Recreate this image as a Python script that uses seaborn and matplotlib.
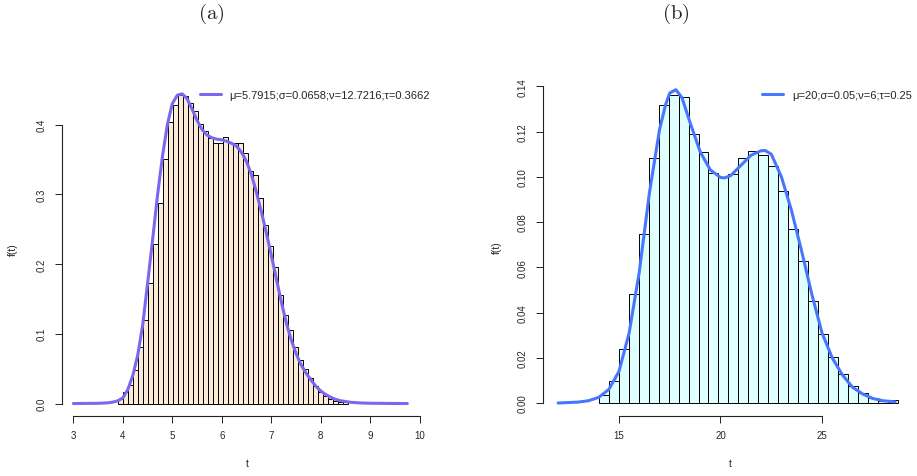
import numpy as np
import pandas as pd
import matplotlib
matplotlib.use("Agg")
import matplotlib.pyplot as plt
import seaborn as sns

# ---------------- data: panel (a) ----------------
a_bin_edges = [3.9, 4.0, 4.1, 4.2, 4.3, 4.4, 4.5, 4.6, 4.7, 4.8, 4.9, 5.0, 5.1, 5.2, 5.3,
               5.4, 5.5, 5.6, 5.7, 5.8, 5.9, 6.0, 6.1, 6.2, 6.3, 6.4, 6.5, 6.6, 6.7, 6.8,
               6.9, 7.0, 7.1, 7.2, 7.3, 7.4, 7.5, 7.6, 7.7, 7.8, 7.9, 8.0, 8.1, 8.2, 8.3,
               8.4, 8.5, 8.6]
a_heights = [0.006, 0.016, 0.027, 0.048, 0.081, 0.120, 0.173, 0.229, 0.288, 0.350, 0.404,
             0.428, 0.443, 0.441, 0.431, 0.420, 0.401, 0.390, 0.381, 0.373, 0.373, 0.382,
             0.374, 0.373, 0.373, 0.359, 0.333, 0.327, 0.295, 0.256, 0.226, 0.196, 0.155,
             0.127, 0.105, 0.081, 0.062, 0.049, 0.037, 0.025, 0.017, 0.011, 0.007, 0.004,
             0.0025, 0.0015, 0.0008]
a_curve_t = [3.0, 3.5, 3.7, 3.8, 3.9, 4.0, 4.1, 4.2, 4.3, 4.4, 4.5, 4.6, 4.7, 4.8, 4.9,
             5.0, 5.1, 5.2, 5.3, 5.4, 5.5, 5.6, 5.7, 5.8, 5.9, 6.0, 6.1, 6.2, 6.3, 6.4,
             6.5, 6.6, 6.7, 6.8, 6.9, 7.0, 7.1, 7.2, 7.3, 7.4, 7.5, 7.6, 7.7, 7.8, 7.9,
             8.0, 8.1, 8.2, 8.3, 8.4, 8.6, 8.8, 9.0, 9.4, 9.75]
a_curve_f = [0.0, 0.0003, 0.001, 0.002, 0.004, 0.008, 0.020, 0.040, 0.069, 0.112, 0.172,
             0.234, 0.298, 0.354, 0.400, 0.430, 0.442, 0.444, 0.437, 0.422, 0.406, 0.393,
             0.385, 0.381, 0.379, 0.378, 0.376, 0.373, 0.369, 0.360, 0.347, 0.328, 0.303,
             0.275, 0.245, 0.213, 0.180, 0.147, 0.117, 0.092, 0.072, 0.056, 0.044, 0.034,
             0.025, 0.018, 0.013, 0.009, 0.006, 0.004, 0.0018, 0.0008, 0.0004, 0.0001, 0.0]
a_label = "μ=5.7915;σ=0.0658;ν=12.7216;τ=0.3662"
a_xticks = [3, 4, 5, 6, 7, 8, 9, 10]
a_yticks = [0.0, 0.1, 0.2, 0.3, 0.4]

# ---------------- data: panel (b) ----------------
b_bin_edges = [14.0, 14.5, 15.0, 15.5, 16.0, 16.5, 17.0, 17.5, 18.0, 18.5, 19.0, 19.5,
               20.0, 20.5, 21.0, 21.5, 22.0, 22.5, 23.0, 23.5, 24.0, 24.5, 25.0, 25.5,
               26.0, 26.5, 27.0, 27.5, 28.0, 28.5, 29.0]
b_heights = [0.0035, 0.0099, 0.0239, 0.0483, 0.0746, 0.1082, 0.1317, 0.1363, 0.1351,
             0.1189, 0.1108, 0.1015, 0.1001, 0.1014, 0.1082, 0.1114, 0.1096, 0.1046,
             0.0936, 0.0769, 0.0626, 0.0451, 0.0304, 0.0202, 0.0128, 0.0074, 0.0043,
             0.0022, 0.0010, 0.0013]
b_curve_t = [12.0, 13.0, 13.5, 14.0, 14.5, 15.0, 15.5, 16.0, 16.5, 17.0, 17.3, 17.5, 17.8,
             18.1, 18.5, 19.0, 19.5, 20.0, 20.2, 20.5, 21.0, 21.5, 22.0, 22.2, 22.5, 23.0,
             23.5, 24.0, 24.5, 25.0, 25.5, 26.0, 26.5, 27.0, 27.5, 28.0, 28.6]
b_curve_f = [0.0, 0.0004, 0.001, 0.0025, 0.006, 0.014, 0.031, 0.058, 0.093, 0.121, 0.132,
             0.137, 0.1385, 0.135, 0.124, 0.111, 0.103, 0.0997, 0.0995, 0.1005, 0.105,
             0.1095, 0.1115, 0.1116, 0.110, 0.100, 0.085, 0.067, 0.048, 0.031, 0.020,
             0.0125, 0.007, 0.004, 0.002, 0.001, 0.0005]
b_label = "μ=20;σ=0.05;ν=6;τ=0.25"
b_xticks = [15, 20, 25]
b_yticks = [0.00, 0.02, 0.04, 0.06, 0.08, 0.10, 0.12, 0.14]

assert len(a_bin_edges) == len(a_heights) + 1
assert len(a_curve_t) == len(a_curve_f)
assert len(b_bin_edges) == len(b_heights) + 1
assert len(b_curve_t) == len(b_curve_f)

# ---------------- style ----------------
sns.set_style("ticks")
plt.rcParams["font.family"] = ["Liberation Sans", "DejaVu Sans"]
plt.rcParams["mathtext.fontset"] = "cm"
plt.rcParams["axes.linewidth"] = 0.8

W, H = 917, 477
fig = plt.figure(figsize=(W / 100, H / 100), dpi=100)


def px_axes(l, r, b, t):
    return fig.add_axes([l / W, 1 - b / H, (r - l) / W, (b - t) / H])


def panel(ax, edges, heights, ct, cf, fill, lc, label, xticks, yticks, xlim, ylim,
          yfmt, leg_right, ylab_x, xlab_y):
    edges = np.asarray(edges, dtype=float)
    centers = (edges[:-1] + edges[1:]) / 2
    width = float(edges[1] - edges[0])
    df = pd.DataFrame({"t": centers, "w": heights})
    sns.histplot(data=df, x="t", weights="w", binwidth=width,
                 binrange=(float(edges[0]), float(edges[-1]) - width / 2),
                 stat="count", ax=ax,
                 color=fill, edgecolor="black", linewidth=0.7, alpha=1.0)
    cdf = pd.DataFrame({"t": ct, "f": cf})
    sns.lineplot(data=cdf, x="t", y="f", ax=ax, color=lc, linewidth=2.2,
                 label=label, sort=False, estimator=None)
    ax.set_xlim(*xlim)
    ax.set_ylim(*ylim)
    ax.set_xticks(xticks)
    ax.set_yticks(yticks)
    ax.set_xticklabels([str(v) for v in xticks])
    ax.set_yticklabels([yfmt.format(v) for v in yticks])
    for lab in ax.get_yticklabels():
        lab.set_rotation(90)
        lab.set_va("center")
    ax.tick_params(axis="both", labelsize=7, length=5, width=0.7, pad=5,
                   color="#222222")
    ax.tick_params(axis="y", pad=6)
    for s in ("top", "right"):
        ax.spines[s].set_visible(False)
    ax.spines["left"].set_bounds(yticks[0], yticks[-1])
    ax.spines["bottom"].set_bounds(xticks[0], xticks[-1])
    for s in ("left", "bottom"):
        ax.spines[s].set_color("#222222")
        ax.spines[s].set_linewidth(0.8)
    ax.set_xlabel("t", fontsize=7.5)
    ax.set_ylabel("f(t)", fontsize=7.5)
    ax.xaxis.set_label_coords(0.5, xlab_y)
    ax.yaxis.set_label_coords(ylab_x, 0.5)
    ax.legend(loc="center right", bbox_to_anchor=(leg_right / W, 1 - 96 / H),
              bbox_transform=fig.transFigure, frameon=False, fontsize=8,
              handlelength=1.9, handletextpad=0.8, borderpad=0, borderaxespad=0)


# panel (a)
ax_a = px_axes(62, 433, 417, 82)
panel(ax_a, a_bin_edges, a_heights, a_curve_t, a_curve_f, "#FBEAD6", "#7B68EE",
      a_label, a_xticks, a_yticks, (2.77, 10.27), (-0.0179, 0.4624), "{:.1f}",
      430, -0.119, -0.125)

# panel (b)
ax_b = px_axes(543, 917, 417.3, 78)
panel(ax_b, b_bin_edges, b_heights, b_curve_t, b_curve_f, "#E0FFFF", "#4876FF",
      b_label, b_xticks, b_yticks, (11.256, 29.68), (-0.00588, 0.1441), "{:.2f}",
      912, -0.110, -0.123)

fig.text(211 / W, 1 - 14 / H, r"$\mathrm{(a)}$", ha="center", va="center", fontsize=15)
fig.text(676 / W, 1 - 14 / H, r"$\mathrm{(b)}$", ha="center", va="center", fontsize=15)

fig.savefig("out.png", dpi=100)
